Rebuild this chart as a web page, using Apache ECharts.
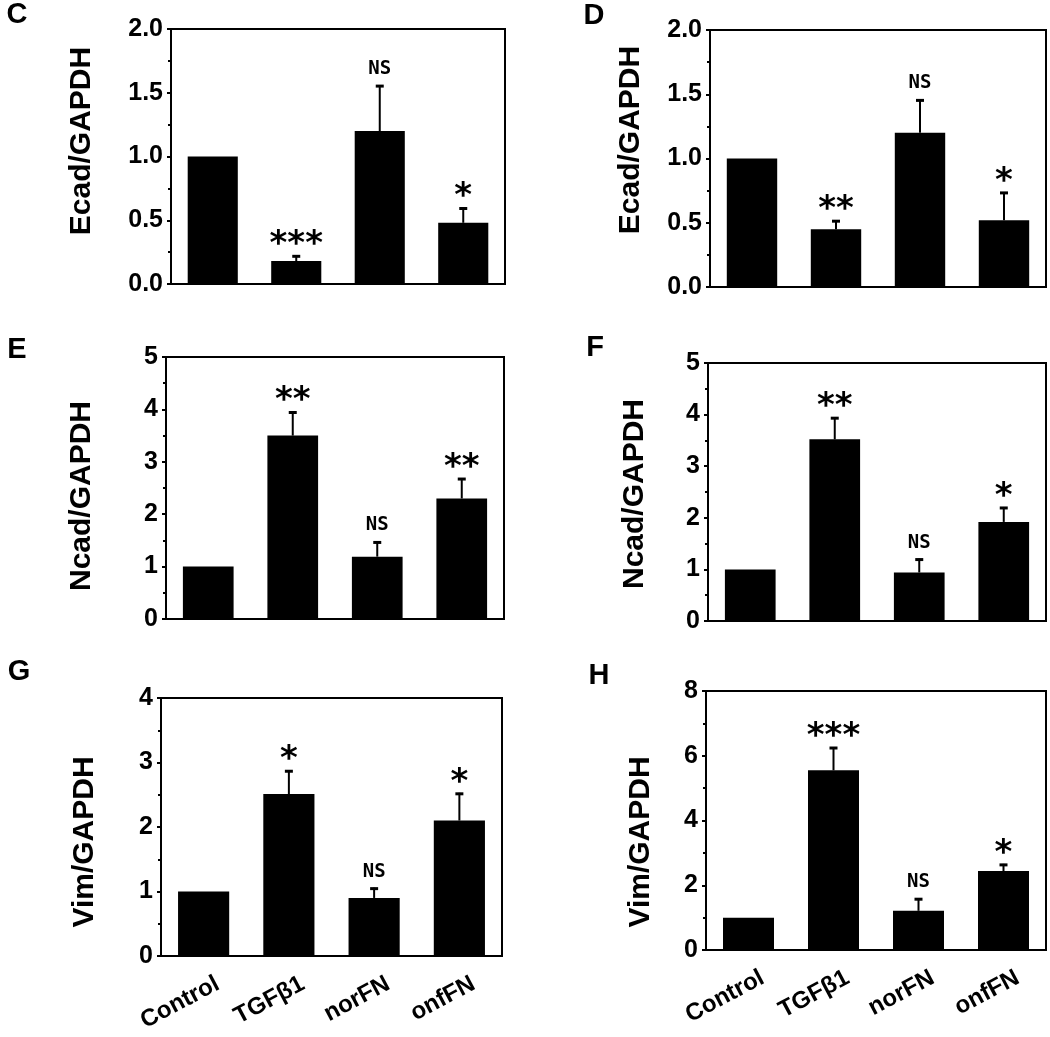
<!DOCTYPE html>
<html>
<head>
<meta charset="utf-8">
<script src="https://cdn.jsdelivr.net/npm/echarts@6/dist/echarts.min.js"></script>
<style>html,body{margin:0;padding:0;background:#fff}#c{width:1050px;height:1037px}</style>
</head>
<body>
<div id="c"></div>
<script>
// ---- data ----
const categories = ['Control', 'TGFβ1', 'norFN', 'onfFN'];

const ecadC = [1.0, 0.18, 1.20, 0.48];
const ecadCErr = [0, 0.045, 0.36, 0.12];
const ecadCSig = ['', '***', 'NS', '*'];

const ecadD = [1.0, 0.45, 1.20, 0.52];
const ecadDErr = [0, 0.07, 0.26, 0.22];
const ecadDSig = ['', '**', 'NS', '*'];

const ncadE = [1.0, 3.50, 1.19, 2.30];
const ncadEErr = [0, 0.46, 0.29, 0.39];
const ncadESig = ['', '**', 'NS', '**'];

const ncadF = [1.0, 3.52, 0.94, 1.92];
const ncadFErr = [0, 0.43, 0.27, 0.29];
const ncadFSig = ['', '**', 'NS', '*'];

const vimG = [1.0, 2.51, 0.90, 2.10];
const vimGErr = [0, 0.37, 0.16, 0.43];
const vimGSig = ['', '*', 'NS', '*'];

const vimH = [1.0, 5.55, 1.21, 2.44];
const vimHErr = [0, 0.72, 0.39, 0.22];
const vimHSig = ['', '***', 'NS', '*'];

const yTicksCD = { min: 0, max: 2.0, interval: 0.5 };
const yTicksEF = { min: 0, max: 5, interval: 1 };
const yTicksG = { min: 0, max: 4, interval: 1 };
const yTicksH = { min: 0, max: 8, interval: 2 };

// ---- layout ----
const panels = [
  { letter: 'C', ylabel: 'Ecad/GAPDH', vals: ecadC, err: ecadCErr, sig: ecadCSig, ticks: yTicksCD, dec: 1,
    grid: { left: 171, top: 29, width: 334, height: 255 }, letterPos: [17, 15], ylabPos: [82, 141], xlab: false },
  { letter: 'D', ylabel: 'Ecad/GAPDH', vals: ecadD, err: ecadDErr, sig: ecadDSig, ticks: yTicksCD, dec: 1,
    grid: { left: 710, top: 30, width: 336, height: 257 }, letterPos: [594, 16], ylabPos: [631, 140], xlab: false },
  { letter: 'E', ylabel: 'Ncad/GAPDH', vals: ncadE, err: ncadEErr, sig: ncadESig, ticks: yTicksEF, dec: 0,
    grid: { left: 166, top: 357, width: 338, height: 262 }, letterPos: [17, 350], ylabPos: [82, 496], xlab: false },
  { letter: 'F', ylabel: 'Ncad/GAPDH', vals: ncadF, err: ncadFErr, sig: ncadFSig, ticks: yTicksEF, dec: 0,
    grid: { left: 708, top: 363, width: 338, height: 258 }, letterPos: [595, 348], ylabPos: [635, 494], xlab: false },
  { letter: 'G', ylabel: 'Vim/GAPDH', vals: vimG, err: vimGErr, sig: vimGSig, ticks: yTicksG, dec: 0,
    grid: { left: 161, top: 698, width: 341, height: 258 }, letterPos: [19, 672], ylabPos: [85, 842], xlab: true },
  { letter: 'H', ylabel: 'Vim/GAPDH', vals: vimH, err: vimHErr, sig: vimHSig, ticks: yTicksH, dec: 0,
    grid: { left: 706, top: 691, width: 340, height: 259 }, letterPos: [599, 676], ylabPos: [641, 842], xlab: true }
];

const ARIAL = '"Liberation Sans", Arial, sans-serif';
const grids = [], xAxes = [], yAxes = [], series = [], graphics = [];

panels.forEach((p, i) => {
  grids.push(Object.assign({ show: true, borderColor: '#000', borderWidth: 2, backgroundColor: 'transparent' }, p.grid));
  xAxes.push({
    type: 'category', gridIndex: i, data: categories,
    axisLine: { show: true, lineStyle: { color: '#000', width: 2 } },
    axisTick: { show: false },
    axisLabel: p.xlab ? { show: true, rotate: 28, color: '#000', fontFamily: ARIAL, fontWeight: 'bold', fontSize: 24,
      margin: 34, interval: 0, padding: [0, -16, 0, 0] } : { show: false },
    splitLine: { show: false }
  });
  yAxes.push({
    type: 'value', gridIndex: i, min: p.ticks.min, max: p.ticks.max, interval: p.ticks.interval,
    axisLine: { show: true, lineStyle: { color: '#000', width: 2 } },
    axisTick: { show: true, inside: false, length: 4, lineStyle: { color: '#000', width: 2 } },
    minorTick: { show: true, splitNumber: 2, length: 3, lineStyle: { color: '#000', width: 2 } },
    axisLabel: { color: '#000', fontFamily: ARIAL, fontWeight: 'bold', fontSize: 25, margin: 8,
      formatter: v => v.toFixed(p.dec) },
    splitLine: { show: false }
  });
  series.push({
    type: 'bar', xAxisIndex: i, yAxisIndex: i, data: p.vals, barWidth: '60%',
    itemStyle: { color: '#000' }, animation: false, silent: true
  });
  const sig = p.sig;
  series.push({
    type: 'custom', xAxisIndex: i, yAxisIndex: i, animation: false, silent: true, z: 5,
    data: p.vals.map((v, k) => [k, v, p.err[k]]),
    renderItem: (params, api) => {
      const k = api.value(0), v = api.value(1), e = api.value(2);
      const base = api.coord([k, v]);
      const top = api.coord([k, v + e]);
      const children = [];
      if (e > 0) {
        children.push({ type: 'line', shape: { x1: base[0], y1: base[1], x2: top[0], y2: top[1] }, style: { stroke: '#000', lineWidth: 2 } });
        children.push({ type: 'line', shape: { x1: top[0] - 4, y1: top[1] + 1, x2: top[0] + 4, y2: top[1] + 1 }, style: { stroke: '#000', lineWidth: 3 } });
      }
      const s = sig[params.dataIndex];
      if (s) {
        const isNS = s === 'NS';
        children.push({
          type: 'text', x: top[0], y: top[1] - (isNS ? 16 : 10),
          style: {
            text: s, align: 'center', verticalAlign: 'middle', fill: '#000',
            font: isNS ? 'bold 19px "DejaVu Sans Mono"' : 'bold 34px "DejaVu Sans"'
          }
        });
      }
      return { type: 'group', children };
    }
  });
  graphics.push({ type: 'text', x: p.letterPos[0], y: p.letterPos[1],
    style: { text: p.letter, align: 'center', verticalAlign: 'middle', fill: '#000', font: 'bold 29px "Liberation Sans", Arial, sans-serif' } });
  graphics.push({ type: 'text', x: p.ylabPos[0], y: p.ylabPos[1], rotation: Math.PI / 2,
    style: { text: p.ylabel, align: 'center', verticalAlign: 'middle', fill: '#000', font: 'bold 30px "Liberation Sans", Arial, sans-serif' } });
});

const chart = echarts.init(document.getElementById('c'), null, { renderer: 'canvas' });
chart.setOption({
  backgroundColor: '#fff',
  animation: false,
  grid: grids, xAxis: xAxes, yAxis: yAxes, series: series, graphic: graphics
});
</script>
</body>
</html>
